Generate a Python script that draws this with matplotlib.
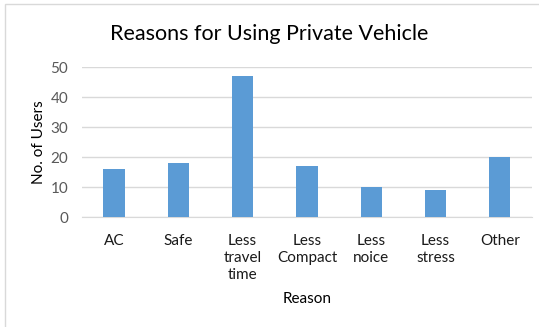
import matplotlib.pyplot as plt
from matplotlib.patches import Rectangle

# data
reasons = ["AC", "Safe", "Less\ntravel\ntime", "Less\nCompact", "Less\nnoice", "Less\nstress", "Other"]
users = [16, 18, 47, 17, 10, 9, 20]

plt.rcParams['font.family'] = ['Lato', 'DejaVu Sans']

fig = plt.figure(figsize=(5.39, 3.27), dpi=100)
ax = fig.add_axes([0.152, 0.336, 0.835, 0.459])

ax.bar(range(len(reasons)), users, width=0.33, color='#5B9BD5', zorder=3)

ax.set_ylim(0, 50)
ax.set_xlim(-0.5, len(reasons) - 0.5)
ax.set_yticks(range(0, 51, 10))
ax.set_xticks(range(len(reasons)))
ax.set_xticklabels(reasons, linespacing=1.3, va='top')
ax.tick_params(length=0, labelsize=11, colors='#595959', pad=10)
ax.tick_params(axis='x', colors='#1a1a1a', pad=12)
ax.grid(axis='y', color='#D9D9D9', linewidth=1, zorder=0)
for s in ['top', 'left', 'right']:
    ax.spines[s].set_visible(False)
ax.spines['bottom'].set_color('#D9D9D9')

ax.set_ylabel("No. of Users", fontsize=11, labelpad=3)
fig.text(0.57, 0.087, "Reason", ha='center', va='center', fontsize=11)
fig.text(0.50, 0.895, "Reasons for Using Private Vehicle", ha='center', va='center', fontsize=15.5)

# light frame around the chart area
fig.patches.append(Rectangle((0.009, -0.01), 1.0, 0.998, transform=fig.transFigure,
                             fill=False, edgecolor='#D9D9D9', linewidth=1))

fig.savefig("out.png", dpi=100)
